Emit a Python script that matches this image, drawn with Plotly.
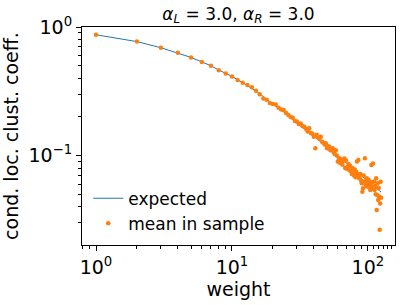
import plotly.graph_objects as go

# expected curve
exp_w = [1, 2, 3, 4, 5, 6, 7, 8, 9, 10, 12, 15, 20, 25, 30, 35, 40, 45, 50, 55,
         60, 65, 70, 75, 80, 85, 90, 95, 100, 105, 110, 115, 120, 125]
exp_c = [0.87, 0.77, 0.69, 0.63, 0.58, 0.535, 0.50, 0.463, 0.436, 0.413, 0.369, 0.318,
         0.252, 0.212, 0.179, 0.158, 0.142, 0.128, 0.115, 0.107, 0.099, 0.093, 0.087,
         0.082, 0.077, 0.073, 0.069, 0.066, 0.064, 0.061, 0.059, 0.056, 0.054, 0.052]

# sample means at weights 1..125
sample_w = list(range(1, 126))
sample_c = [
    0.87, 0.77, 0.69, 0.63, 0.58, 0.535, 0.50, 0.462, 0.435, 0.413,
    0.387, 0.369, 0.354, 0.340, 0.320, 0.300, 0.278, 0.272, 0.256, 0.252,
    0.250, 0.236, 0.228, 0.226, 0.214, 0.207, 0.200, 0.197, 0.186, 0.184,
    0.176, 0.178, 0.170, 0.168, 0.162, 0.154, 0.163, 0.150, 0.148, 0.140,
    0.114, 0.145, 0.138, 0.136, 0.140, 0.128, 0.126, 0.122, 0.125, 0.114,
    0.118, 0.117, 0.110, 0.112, 0.114, 0.106, 0.103, 0.110, 0.100, 0.090,
    0.096, 0.088, 0.094, 0.087, 0.085, 0.091, 0.095, 0.080, 0.092, 0.079,
    0.082, 0.086, 0.077, 0.083, 0.076, 0.072, 0.080, 0.073, 0.070, 0.078,
    0.068, 0.075, 0.090, 0.071, 0.0925, 0.067, 0.0666, 0.072, 0.064, 0.061,
    0.0524, 0.0557, 0.070, 0.063, 0.0953, 0.060, 0.058, 0.0666, 0.062, 0.0573,
    0.065, 0.059, 0.0627, 0.054, 0.060, 0.0845, 0.057, 0.062, 0.087, 0.055,
    0.063, 0.054, 0.058, 0.050, 0.0666, 0.0377, 0.0494, 0.0609, 0.0452, 0.056,
    0.048, 0.0265, 0.0425, 0.0627, 0.047,
]

x_ticks = [1, 10, 100]
x_ticktext = ["10<sup>0</sup>", "10<sup>1</sup>", "10<sup>2</sup>"]
x_minor = [0.8, 0.9, 2, 3, 4, 5, 6, 7, 8, 9, 20, 30, 40, 50, 60, 70, 80, 90, 110, 120, 130, 140, 150]
y_ticks = [0.1, 1]
y_ticktext = ["10<sup>−1</sup>", "10<sup>0</sup>"]
y_minor = [0.03, 0.04, 0.05, 0.06, 0.07, 0.08, 0.09, 0.2, 0.3, 0.4, 0.5, 0.6, 0.7, 0.8, 0.9]

font = "DejaVu Sans"
fig = go.Figure()
fig.add_trace(go.Scatter(x=exp_w, y=exp_c, mode="lines", name="expected",
                         line=dict(color="#1f77b4", width=1)))
fig.add_trace(go.Scatter(x=sample_w, y=sample_c, mode="markers", name="mean in sample",
                         marker=dict(color="#ff7f0e", size=4.5, line=dict(width=0))))

axis_common = dict(type="log", showgrid=False, automargin=False,
                   zeroline=False, showline=True, linecolor="black", linewidth=1,
                   mirror=True, ticks="outside", ticklen=5, tickwidth=1.4,
                   tickcolor="black", tickfont=dict(size=19, color="black", family=font))

fig.update_xaxes(**axis_common, range=[-0.103, 2.199],
                 tickmode="array", tickvals=x_ticks, ticktext=x_ticktext,
                 minor=dict(ticks="outside", ticklen=3, tickwidth=0.9, tickcolor="black",
                            tickmode="array", tickvals=x_minor, showgrid=False),
                 title=dict(text="weight", font=dict(size=19, color="black", family=font),
                            standoff=0))
fig.update_yaxes(**axis_common, range=[-1.695, 0.0],
                 tickmode="array", tickvals=y_ticks, ticktext=y_ticktext,
                 minor=dict(ticks="outside", ticklen=3, tickwidth=0.9, tickcolor="black",
                            tickmode="array", tickvals=y_minor, showgrid=False),
                 title=dict(text="cond. loc. clust. coeff.",
                            font=dict(size=19, color="black", family=font), standoff=4))

fig.update_layout(
    width=407, height=305,
    margin=dict(l=82, r=12, t=27, b=60, autoexpand=False),
    paper_bgcolor="white", plot_bgcolor="white",
    font=dict(family=font, color="black"),
    hovermode=False,
    title=dict(text="<i>α</i><sub><i>L</i></sub> = 3.0, <i>α</i><sub><i>R</i></sub> = 3.0",
               x=0.5, xanchor="center", xref="paper", y=0.955, yanchor="middle",
               automargin=False,
               font=dict(size=17, color="black", family=font)),
    legend=dict(x=0.02, y=0.295, xanchor="left", yanchor="top",
                bgcolor="rgba(255,255,255,0)", font=dict(size=17, color="black", family=font),
                itemwidth=30, tracegroupgap=0),
    showlegend=True,
)

fig.write_html("out.html", config={"displayModeBar": False},
               post_script="document.body.style.margin='0';")
